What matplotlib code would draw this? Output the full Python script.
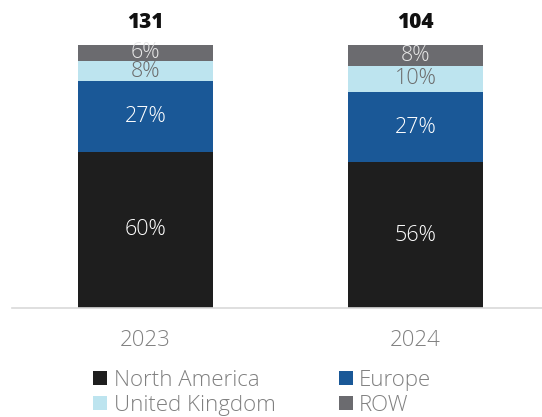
import matplotlib
matplotlib.use("Agg")
import matplotlib.pyplot as plt
from matplotlib.patches import Patch
import numpy as np

years = ["2023", "2024"]
totals = [131, 104]
series_names = ["North America", "Europe", "United Kingdom", "ROW"]
north_america = [60, 56]
europe = [27, 27]
united_kingdom = [8, 10]
row = [6, 8]

colors = ["#1e1e1e", "#1a5897", "#bde4ef", "#6b6b6f"]
text_colors = ["#ffffff", "#ffffff", "#6b6b6b", "#e6e6e6"]

plt.rcParams['font.family'] = ['Open Sans', 'DejaVu Sans']

fig = plt.figure(figsize=(5.42, 4.17), dpi=100)
ax = fig.add_axes([12/542, (417-308)/417, 530/542, 308/417])

x = np.arange(len(years))
width = 0.5
bottom = np.zeros(len(years))
handles = []
for name, vals, c, tc in zip(series_names, [north_america, europe, united_kingdom, row], colors, text_colors):
    vals = np.array(vals, dtype=float)
    ax.bar(x, vals, width, bottom=bottom, color=c, edgecolor='none')
    for xi, b, v in zip(x, bottom, vals):
        ax.text(xi, b + v/2, f"{int(v)}%", ha='center', va='center', color=tc,
                fontsize=15.5, fontweight='light')
    handles.append(Patch(facecolor=c, edgecolor='none', label=name))
    bottom += vals

for xi, b, t in zip(x, bottom, totals):
    ax.text(xi, b + 8.8, str(t), ha='center', va='center', color='#111111',
            fontsize=15, fontweight='heavy')

ax.set_xlim(-0.494, 1.468)
ax.set_ylim(0, 101*308/263)
for s in ['top', 'right', 'left']:
    ax.spines[s].set_visible(False)
ax.spines['bottom'].set_color('#d9d9d9')
ax.spines['bottom'].set_linewidth(1.2)
ax.set_yticks([])
ax.set_xticks(x)
ax.set_xticklabels(years, color='#808080', fontsize=16, fontweight='light')
ax.tick_params(axis='x', length=0, pad=16)

order = [0, 2, 1, 3]
leg = fig.legend([handles[i] for i in order], [series_names[i] for i in order],
                 ncol=2, loc='upper left', bbox_to_anchor=(82/542, 1 - 359/417),
                 frameon=False, handlelength=0.62, handleheight=0.62,
                 handletextpad=0.3, columnspacing=2.85, labelspacing=0.18,
                 borderpad=0, labelcolor='#808080',
                 prop={'weight': 'light', 'size': 16})

fig.savefig("out.png", dpi=100)
